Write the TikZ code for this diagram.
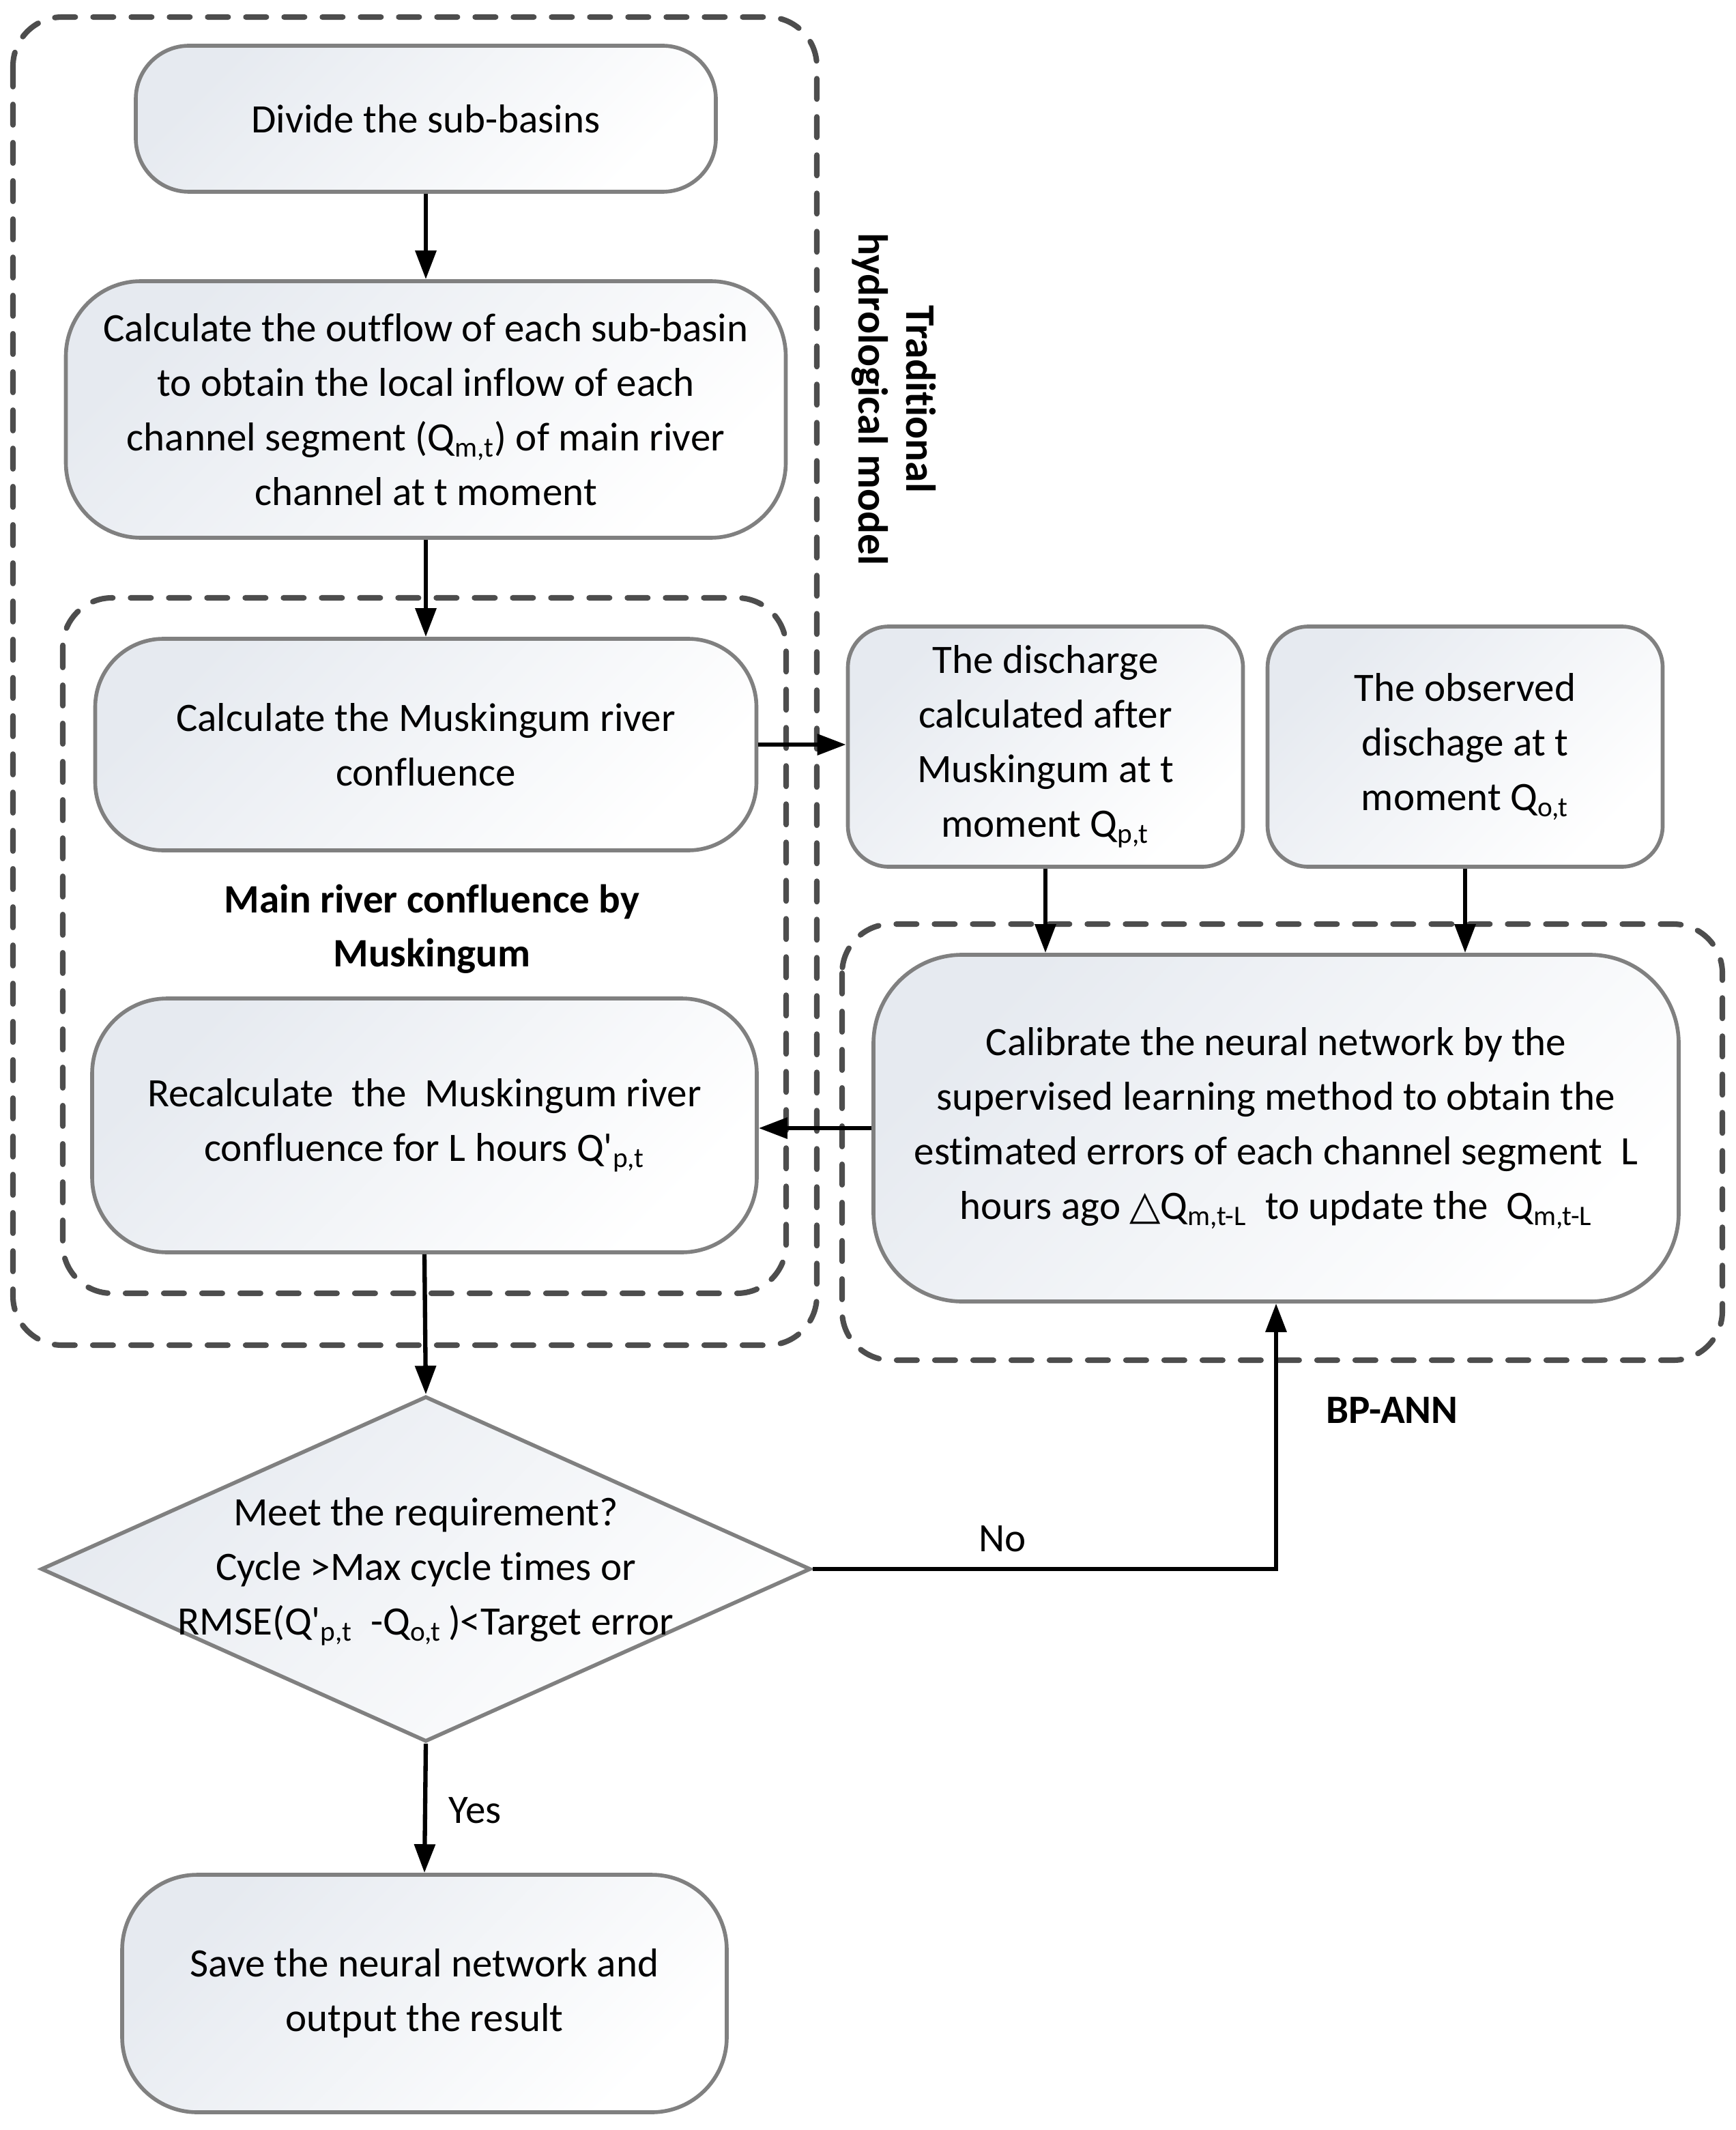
\documentclass[tikz,border=0pt]{standalone}
\usepackage{fontspec}
\setmainfont{Carlito}[Ligatures={CommonOff,TeXOff}]
\newfontfamily\symfont{DejaVu Sans}
\usetikzlibrary{arrows.meta,shapes.geometric}
\definecolor{boxfill}{RGB}{230,234,240}
\definecolor{boxline}{RGB}{128,128,128}
\definecolor{grpline}{RGB}{77,77,77}
\newcommand\mainfs{\fontsize{16.8pt}{22.8pt}\selectfont}
\newcommand\lblfs{\bfseries\fontsize{16.8pt}{22.4pt}\selectfont}
\newcommand\sbs[1]{\textsubscript{#1}}
\tikzset{
  proc/.style={rectangle, draw=boxline, line width=1.6pt, top color=boxfill, bottom color=white, shading angle=45, align=center, inner sep=0pt, font=\mainfs},
  decision/.style={diamond, aspect=2.23, draw=boxline, line width=1.6pt, top color=boxfill, bottom color=white, shading angle=45, inner sep=0pt, minimum width=11.28cm, minimum height=5.06cm},
  grp/.style={draw=grpline, line width=2.3pt, dash pattern=on 0.3cm off 0.26cm, line cap=round, rounded corners=0.72cm},
  arr/.style={line width=1.8pt, -{Triangle[length=0.42cm,width=0.30cm]}},
  txt/.style={font=\mainfs, align=center, inner sep=0pt},
  lbl/.style={font=\lblfs, align=center, inner sep=0pt},
}
\begin{document}
\begin{tikzpicture}
\path[use as bounding box] (0,0) rectangle (25.44,-31.21);
% groups
\draw[grp] (0.19,-0.25) rectangle (11.97,-19.71);
\draw[grp] (0.92,-8.76) rectangle (11.52,-18.95);
\draw[grp] (12.34,-13.54) rectangle (25.24,-19.93);
% nodes
\node[proc, rounded corners=0.78cm, minimum width=8.50cm, minimum height=2.14cm] (divide) at (6.24,-1.74) {Divide the sub-basins};
\node[proc, rounded corners=1.1cm, minimum width=10.55cm, minimum height=3.76cm] (outflow) at (6.24,-6.00)
  {Calculate the outflow of each sub-basin\\to obtain the local inflow of each\\channel segment (Q\sbs{m,t}) of main river\\channel at t moment};
\node[proc, rounded corners=1.0cm, minimum width=9.69cm, minimum height=3.10cm] (calcm) at (6.24,-10.91)
  {Calculate the Muskingum river\\confluence};
\node[proc, rounded corners=1.1cm, minimum width=9.74cm, minimum height=3.72cm] (recalc) at (6.22,-16.49)
  {Recalculate\ \ the\ \ Muskingum river\\confluence for L hours Q'\sbs{p,t}};
\node[decision] (dia) at (6.24,-22.99) {};
\node[txt] (diatxt) at (6.24,-23.03)
  {Meet the requirement?\\Cycle {>}Max cycle times or\\RMSE(Q'\sbs{p,t}\ \ -Q\sbs{o,t}\,){<}Target error};
\node[proc, rounded corners=1.1cm, minimum width=8.86cm, minimum height=3.48cm] (save) at (6.22,-29.21)
  {Save the neural network and\\output the result};
\node[proc, rounded corners=0.6cm, minimum width=5.79cm, minimum height=3.52cm] (dis) at (15.32,-10.94)
  {The discharge\\calculated after\\Muskingum at t\\moment Q\sbs{p,t}};
\node[proc, rounded corners=0.6cm, minimum width=5.79cm, minimum height=3.52cm] (obs) at (21.47,-10.94)
  {The observed\\dischage at t\\moment Q\sbs{o,t}};
\node[proc, rounded corners=1.3cm, minimum width=11.80cm, minimum height=5.08cm] (calib) at (18.70,-16.53)
  {Calibrate the neural network by the\\supervised learning method to obtain the\\estimated errors of each channel segment\ \ L\\hours ago {\symfont △}Q\sbs{m,t-L}\ \ to update the\ \ Q\sbs{m,t-L}};
% labels
\node[lbl] (musklbl) at (6.33,-13.61) {Main river confluence by\\Muskingum};
\node[lbl, rotate=-90, font=\bfseries\fontsize{17.5pt}{20pt}\selectfont] (tradlbl) at (13.10,-5.85) {Traditional\\hydrological model};
\node[lbl] (bplbl) at (20.40,-20.66) {BP-ANN};
\node[txt] (nolbl) at (14.69,-22.55) {No};
\node[txt] (yeslbl) at (6.96,-26.53) {Yes};
% connectors
\draw[arr] (divide.south) -- (outflow.north);
\draw[arr] (outflow.south) -- (calcm.north);
\draw[arr] (calcm.east) -- (calcm.east -| dis.west);
\draw[arr] (dis.south) -- (dis.south |- calib.north);
\draw[arr] (obs.south) -- (obs.south |- calib.north);
\draw[arr] (calib.west) -- (calib.west -| recalc.east);
\draw[arr] (recalc.south) -- (dia.north);
\draw[arr] (dia.south) -- (save.north);
\draw[arr] (dia.east) -| (calib.south);
\end{tikzpicture}
\end{document}
